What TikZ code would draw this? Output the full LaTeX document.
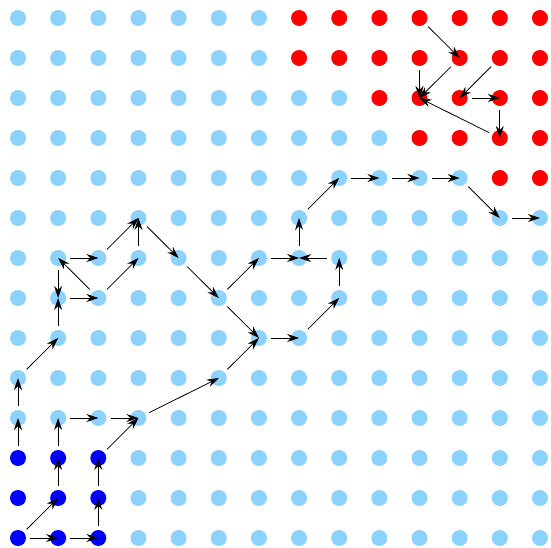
\documentclass[tikz,border=0pt]{standalone}
\usetikzlibrary{arrows.meta}
\definecolor{lb}{RGB}{140,210,254}
\definecolor{rd}{RGB}{255,0,0}
\definecolor{db}{RGB}{0,0,255}
\begin{document}
\begin{tikzpicture}[x=1pt,y=1pt,
  dot/.style={circle,inner sep=0pt,minimum size=16pt,draw=none},
  edge/.style={line width=0.8pt,draw=black,shorten <=4pt,shorten >=0pt,
    -{Stealth[length=12pt,width=8pt,inset=4pt]}}]
\useasboundingbox (0,0) rectangle (551,-548);
\foreach \i in {0,...,13} {
  \foreach \j in {0,...,13} {
    \pgfmathtruncatemacro\kind{ifthenelse((\j<2 && \i>6) || (\j==2 && \i>8) || (\j==3 && \i>9) || (\j==4 && \i>11),1,ifthenelse(\j>10 && \i<3,2,0))}
    \ifcase\kind \def\col{lb}\or \def\col{rd}\or \def\col{db}\fi
    \node[dot,fill=\col] (n-\i-\j) at ({18+40.15*\i},{-18-40*\j}) {};
  }
}
\foreach \a/\b in {10-0/11-1,10-1/10-2,11-1/10-2,12-1/11-2,11-2/12-2,12-2/12-3,12-3/10-2,
  0-13/1-13,1-13/2-13,2-13/2-12,2-12/2-11,2-11/3-10,
  0-13/1-12,1-12/1-11,1-11/1-10,1-10/2-10,2-10/3-10,3-10/5-9,
  0-11/0-10,0-10/0-9,0-9/1-8,1-8/1-7,1-6/1-7,1-7/2-7,2-7/1-6,1-6/2-6,2-6/3-5,
  2-7/3-6,3-6/3-5,3-5/4-6,4-6/5-7,5-7/6-6,5-7/6-8,5-9/6-8,6-8/7-8,7-8/8-7,
  8-7/8-6,8-6/7-6,6-6/7-6,7-6/7-5,7-5/8-4,8-4/9-4,9-4/10-4,10-4/11-4,11-4/12-5,12-5/13-5}
  \draw[edge] (n-\a) -- (n-\b.center);
\end{tikzpicture}
\end{document}
